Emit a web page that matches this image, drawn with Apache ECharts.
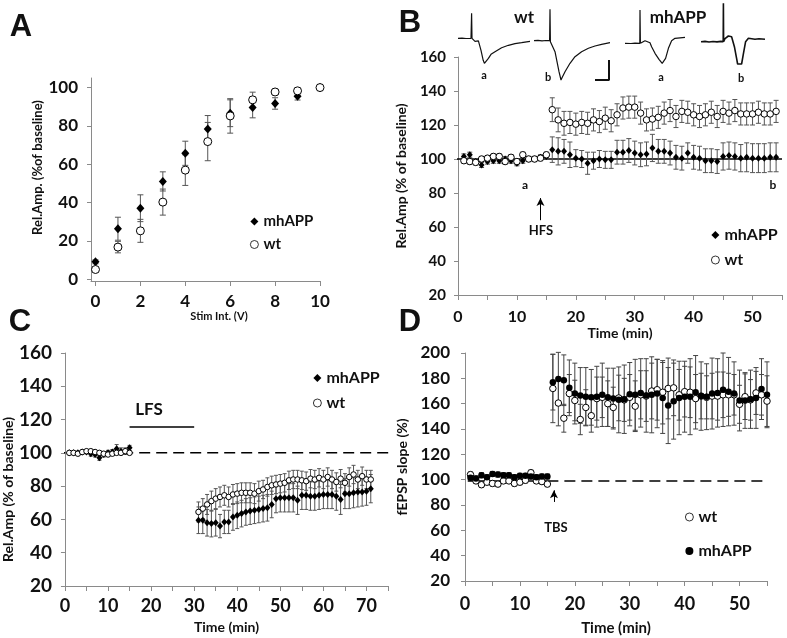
<!DOCTYPE html>
<html><head><meta charset="utf-8">
<script src="https://cdn.jsdelivr.net/npm/echarts@6/dist/echarts.min.js"></script>
<style>html,body{margin:0;padding:0;background:#fff}#c{width:787px;height:638px}</style>
</head><body><div id="c"></div>
<script>
// ---------- Panel A : input/output ----------
const stimV   = [0, 1, 2, 3, 4, 5, 6, 7, 8, 9, 10];
const aMh     = [9, 26.3, 37, 51, 65.7, 78.4, 86.6, 89.6, 91.7, 95.5, 100];
const aMhErr  = [1, 6, 7, 5, 6.3, 7, 7, 5.4, 3, 2, 0.5];
const aWt     = [5, 16.7, 25.2, 40.2, 56.9, 71.8, 85.2, 93.6, 97.7, 98.3, 100];
const aWtErr  = [1, 3, 6, 6.8, 8, 10, 9, 4, 1.5, 1.5, 0.5];
const aTicksX = [0, 2, 4, 6, 8, 10];
const aTicksY = [0, 20, 40, 60, 80, 100];

// ---------- Panel B : HFS LTP (rel. amplitude) ----------
const bTime  = [1,2,3,4,5,6,7,8,9,10,11,12,13,14,15,16,17,18,19,20,21,22,23,24,25,26,27,28,29,30,31,32,33,34,35,36,37,38,39,40,41,42,43,44,45,46,47,48,49,50,51,52,53,54];
const bMh    = [101.5,102.5,98.5,96.5,98.5,99,99,100,99,97.5,99,100,100,101,101.5,
                105.5,104.5,104.5,102.5,100.5,100,97.5,99,100,99.5,99.5,104,104,105,103.5,102.5,103,106.5,104.5,104.5,103.5,101,100.5,103.5,101,100.5,99,99,98.5,101.5,102,101.5,100.5,101,100.5,100.5,100.5,101,101];
const bMhErr = [1.5,1.5,1.5,1.5,1.5,1.5,1.5,1.5,1.5,1.5,1.5,1.5,1.5,1.5,1.5,
                7.5,8,7,7.5,5,5,6.5,5,5,5,5,7,7,7,7,7,7,8,7,7,7,7,7,6,7,7,7,7,7,8,8,8,8,8.5,8.5,8.5,8.5,8.5,8.5];
const bWt    = [99,98.5,98,100,100.5,101.5,101.5,98.5,101,98.5,102.5,100,100,100.5,102.5,
                129,123,121,121.5,120.5,121.5,121,123,122,124,122.5,126,130,130.5,130.5,127,123,123.5,124.5,127,128.5,125,128,127.5,126,125,126,127.5,125,128,127,128.5,126.5,126.5,126.5,127.5,126.5,126.5,128];
const bWtErr = [1.5,1.5,1.5,1.5,1.5,1.5,1.5,1.5,1.5,1.5,1.5,1.5,1.5,1.5,1.5,
                7,7,7,6.5,6.5,6.5,6.5,6.5,6.5,6.5,6.5,6.5,6.5,6.5,6.5,6.5,6.5,6.5,6.5,6.5,6.5,6.5,6.5,6.5,6.5,6.5,6.5,6.5,6.5,6.5,6.5,6.5,6.5,6.5,6.5,6.5,6.5,6.5,6.5];
const bRef   = [[-2, 100], [55, 100]];
const hfsArrow = [[14, 64], [14, 77]];

// sample traces (time ms, amplitude rel. to baseline)
const trWtA = [[0,0],[2,0.02],[4,-0.02],[6.5,0],[6.8,2.5],[7,0],[7.8,-0.17],[8.5,-0.3],[9.3,-0.17],[10.2,-0.25],[11.5,-1.2],[12.6,-2.2],[13.2,-2.5],[14,-2.3],[15.2,-2.0],[16.5,-1.6],[18.5,-1.34],[21.8,-0.94],[25.2,-0.7],[28.5,-0.54],[31.8,-0.44],[36,-0.3]];
const trWtB = [[0,0],[2,0.03],[4,-0.02],[6,0.02],[7.8,0],[8,3.14],[8.2,-0.1],[9,-0.2],[10.5,-1.1],[11.5,-2.1],[12.5,-3.1],[13.5,-3.93],[14,-3.7],[15.5,-3.1],[18,-2.26],[20.5,-1.6],[23.8,-1.1],[27.2,-0.76],[30.5,-0.53],[33.8,-0.36],[38,-0.2]];
const trMhA = [[0,0],[3,-0.02],[5,0.02],[7.4,0],[7.5,3.33],[7.7,0],[10,0.26],[12.5,0.05],[13.3,-0.34],[15,-1],[17,-1.6],[18.6,-2.0],[20.3,-1.5],[21.7,-0.5],[23.3,0.26],[25,0.5],[30,0.6]];
const trMhB = [[0,0],[2,0.03],[4,-0.03],[6,0.02],[8,-0.02],[10,0.03],[11.1,0],[11.2,3.84],[11.3,0],[12,0.3],[13.7,0.57],[15.3,0.5],[16.7,-0.5],[17.8,-1.66],[18.3,-2.23],[20.3,-2.23],[21.3,-1.1],[22.3,0],[23.7,0.34],[27,0.24],[29,0.3],[32,0.24]];
const scaleBar = [[30.5,-3.93],[37.5,-3.93],[37.5,-1.93]];

// ---------- Panel C : LFS LTD ----------
const cTime  = [1,2,3,4,5,6,7,8,9,10,11,12,13,14,15,31,32,33,34,35,36,37,38,39,40,41,42,43,44,45,46,47,48,49,50,51,52,53,54,55,56,57,58,59,60,61,62,63,64,65,66,67,68,69,70,71];
const cMh    = [100,100,100,100.5,100.5,99.5,99,97,99,100,100.5,102.5,101,101,103,
                59.5,59.5,58,57.5,58,56,58.5,58.5,61.5,62.5,63.5,64.5,65,65.5,66,66.5,67,69,72.5,73,73,73,73,71.5,74.5,74.5,74,74,74.5,75,75,75,74,72,75.5,75.5,76,76.5,76.5,77,78.5];
const cMhErr = [1,1,1,1,1,1.5,1.5,1.5,1.5,1.5,1.5,2.5,2,2,1.5,
                8,8,8,8,8,7,7,7,8,8,8,8,8,8,8,8,8,8,8.5,8.5,8.5,8.5,8.5,8.5,8.5,8.5,8.5,8.5,8.5,8.5,8.5,8.5,8.5,9,9,9,9,9,8.5,8.5,8.5];
const cWt    = [100,100,99.5,100.5,101,101,100.5,100,99.5,99,99.5,100,100,101,100,
                64.5,66.5,69,71,72.5,73.5,74.5,73.5,75,75.5,76,76,76,75.5,77,78,79.5,80.5,81,81.5,82,83.5,84,84,83.5,83,84.5,84,85,84,85.5,84,82.5,84.5,82,85.5,87,84,86,84,84];
const cWtErr = [1,1,1,1,1,1,1,1,1,1,1,1,1,1,1,
                6,6,6,6,6,6,6,6,6,6,6,6,6,6,6,5.5,5.5,5.5,5.5,5.5,5.5,5.5,5.5,5.5,5.5,5.5,5.5,5.5,5.5,5.5,5.5,5.5,5.5,5.5,5.5,5.5,5.5,5.5,5.5,5.5,5.5];
const cRef   = [[-2.5, 100], [76.5, 100]];
const lfsBar = [[15, 115.6], [30, 115.6]];

// ---------- Panel D : TBS LTP (fEPSP slope) ----------
const dTime  = [1,2,3,4,5,6,7,8,9,10,11,12,13,14,15,16,17,18,19,20,21,22,23,24,25,26,27,28,29,30,31,32,33,34,35,36,37,38,39,40,41,42,43,44,45,46,47,48,49,50,51,52,53,54,55];
const dWt    = [104,99,96,98,97,96.5,99,99,97,98,99.5,105.5,99,98.5,96.5,
                172,160.5,148.5,168,162.5,147.5,157,150.5,164,165,160,157,164.5,163,165,158,167,166,170,171,169,172,172.5,167,169.5,169,164,166,165,166,166,167,167,167,159.5,165.5,163,168.5,167,162];
const dWtErr = [2,2,2,2,2,2,2,2,2,2,2,2,2,2,2,
                27,18,11,15,16,12,14,13,17,16,18,16,18,17,18,20,19,20,22,24,25,24,22,20,20,20,19,18,17,18,19,18,17,16,15,18,16,17,16,20];
const dMh    = [101.5,101,103.5,102,104.5,104,103.5,103.5,102,103,103,102.5,102,102.5,102.5,
                177,179.5,178.5,172.5,168,166.5,165.5,165,165.5,167,165,164,163,163.5,167.5,167,168.5,166.5,167,168,164.5,158.5,162,164.5,165.5,165.5,169,166,165.5,168,168.5,171,169.5,168,162.5,162.5,163.5,164.5,171.5,167];
const dMhErr = [2,2,2,2,2,2,2,2,2,2,2,2,2,2,2,
                22,21,20,22,24,22,23,22,24,25,23,24,26,27,25,28,27,29,30,27,28,30,30,29,28,30,29,27,26,28,27,29,27,25,24,22,23,24,24,26];
const dRefSolid  = [[0.5, 99], [15, 99]];
const dRefDashed = [[15, 99], [55, 99]];
const tbsArrow   = [[16.2, 82.4], [16.2, 91.6]];

// ---------------------------------------------------------------
const FONT = 'Lato, "Open Sans", sans-serif';
const txt = (size) => ({fontFamily: FONT, fontWeight: 'bold', fontSize: size, color: '#111'});
const AX = '#8a8a8a';
const pairs = (xs, vs) => xs.map((x, i) => [x, vs[i]]);

function errSeries(xi, xs, vs, es, cap, color) {
  return {
    type: 'custom', xAxisIndex: xi, yAxisIndex: xi, z: 2, silent: true,
    data: xs.map((x, i) => [x, vs[i] - es[i], vs[i] + es[i]]),
    encode: {x: 0, y: [1, 2]},
    renderItem: function (params, api) {
      const x = api.value(0);
      const p1 = api.coord([x, api.value(2)]);
      const p2 = api.coord([x, api.value(1)]);
      const st = {stroke: color || '#555', lineWidth: 1};
      return {type: 'group', children: [
        {type: 'line', shape: {x1: p1[0], y1: p1[1], x2: p2[0], y2: p2[1]}, style: st},
        {type: 'line', shape: {x1: p1[0] - cap, y1: p1[1], x2: p1[0] + cap, y2: p1[1]}, style: st},
        {type: 'line', shape: {x1: p2[0] - cap, y1: p2[1], x2: p2[0] + cap, y2: p2[1]}, style: st}
      ]};
    }
  };
}
function openCircle(name, xi, data, size, z) {
  return {name, type: 'scatter', xAxisIndex: xi, yAxisIndex: xi, data, symbol: 'circle', symbolSize: size,
    itemStyle: {color: '#fff', borderColor: '#000', borderWidth: 1, opacity: 1}, z: z || 4, silent: true};
}
function filled(name, xi, data, symbol, size, z) {
  return {name, type: 'scatter', xAxisIndex: xi, yAxisIndex: xi, data, symbol, symbolSize: size,
    itemStyle: {color: '#000', opacity: 1}, z: z || 3, silent: true};
}
function refLine(xi, data, dashed, width) {
  return {type: 'line', xAxisIndex: xi, yAxisIndex: xi, data, symbol: 'none', clip: false, silent: true, z: 1,
    lineStyle: {color: '#000', width: width || 1.5, type: dashed ? [11, 6] : 'solid'}};
}
function arrowLine(xi, pts) {
  return {type: 'line', xAxisIndex: xi, yAxisIndex: xi, data: [], silent: true,
    markLine: {silent: true, symbol: ['none', 'arrow'], symbolSize: [6, 8], label: {show: false},
      lineStyle: {color: '#000', width: 1, type: 'solid'},
      data: [[{coord: pts[0]}, {coord: pts[1]}]]}};
}
function traceSeries(xi, data, w) {
  return {type: 'line', xAxisIndex: xi, yAxisIndex: xi, data, symbol: 'none', clip: false, silent: true,
    lineStyle: {color: '#111', width: w || 1.2}};
}

function valueX(gi, opt) {
  return Object.assign({
    gridIndex: gi, type: 'value',
    axisLine: {show: true, onZero: false, lineStyle: {color: AX, width: 1}},
    axisTick: {show: true, length: 5, lineStyle: {color: AX}},
    splitLine: {show: false},
    nameLocation: 'middle'
  }, opt);
}
function valueY(gi, opt) {
  return Object.assign({
    gridIndex: gi, type: 'value',
    axisLine: {show: true, onZero: false, lineStyle: {color: AX, width: 1}},
    axisTick: {show: true, length: 4, lineStyle: {color: AX}},
    splitLine: {show: false},
    nameLocation: 'middle'
  }, opt);
}
const every10 = v => (v % 10 === 0 ? String(v) : '');

// trace grids: [left, top, width]
const traceBoxes = [[458, 3.3, 72], [534, 5.7, 76], [625, 8.3, 60], [701, 6.7, 64]];

const grids = [
  {left: 91, top: 78, width: 229, height: 203},
  {left: 458, top: 57, width: 324, height: 238},
  {left: 64, top: 353, width: 324, height: 233},
  {left: 465, top: 353, width: 302, height: 228}
].concat(traceBoxes.map(b => ({left: b[0], top: b[1], width: b[2], height: 80})));

const xAxes = [
  valueX(0, {min: -0.2, max: 10,
    axisTick: {show: true, length: 5, lineStyle: {color: AX}, customValues: aTicksX},
    axisLabel: Object.assign({customValues: aTicksX, margin: 12}, txt(17)),
    name: 'Stim Int. (V)', nameGap: 30, nameTextStyle: Object.assign({padding: [0, 0, 0, 27]}, txt(11))}),
  valueX(1, {min: 0, max: 55, interval: 5,
    axisLabel: Object.assign({formatter: every10, margin: 14}, txt(16)),
    name: 'Time (min)', nameGap: 31, nameTextStyle: txt(14)}),
  valueX(2, {min: 0, max: 75, interval: 5,
    axisLabel: Object.assign({formatter: every10, margin: 11}, txt(18)),
    name: 'Time (min)', nameGap: 34, nameTextStyle: txt(14)}),
  valueX(3, {min: 0, max: 55, interval: 5,
    axisLabel: Object.assign({formatter: every10, margin: 14}, txt(18)),
    name: 'Time (min)', nameGap: 40, nameTextStyle: txt(15)})
].concat(traceBoxes.map((b, i) => ({gridIndex: 4 + i, type: 'value', min: 0, max: b[2] / 2, show: false})));

const yAxes = [
  valueY(0, {min: -1, max: 105,
    axisTick: {show: true, length: 4, lineStyle: {color: AX}, customValues: aTicksY},
    axisLabel: Object.assign({customValues: aTicksY, margin: 13}, txt(17)),
    name: 'Rel.Amp. (%of baseline)', nameGap: 42, nameTextStyle: Object.assign({padding: [0, 0, 0, 24]}, txt(13))}),
  valueY(1, {min: 20, max: 160, interval: 20,
    axisLabel: Object.assign({margin: 12}, txt(15)),
    name: 'Rel.Amp (% of baseline)', nameGap: 50, nameTextStyle: txt(14)}),
  valueY(2, {min: 20, max: 160, interval: 20,
    axisLabel: Object.assign({margin: 13}, txt(19)),
    name: 'Rel.Amp (% of baseline)', nameGap: 48, nameTextStyle: Object.assign({padding: [0, 40, 0, 0]}, txt(14))}),
  valueY(3, {min: 20, max: 200, interval: 20,
    axisLabel: Object.assign({margin: 15}, txt(17)),
    name: 'fEPSP slope (%)', nameGap: 56, nameTextStyle: txt(14)})
].concat(traceBoxes.map((b, i) => ({gridIndex: 4 + i, type: 'value', min: -4.5, max: 3.5, show: false})));

const series = [
  // A
  errSeries(0, stimV, aMh, aMhErr, 3, '#555'),
  errSeries(0, stimV, aWt, aWtErr, 3, '#555'),
  filled('mhAPP|A', 0, pairs(stimV, aMh), 'diamond', [8, 9]),
  openCircle('wt|A', 0, pairs(stimV, aWt), 8),
  // B
  refLine(1, bRef, false, 1.5),
  errSeries(1, bTime, bMh, bMhErr, 2.5, '#555'),
  errSeries(1, bTime, bWt, bWtErr, 2.5, '#555'),
  filled('mhAPP|B', 1, pairs(bTime, bMh), 'diamond', [6, 7]),
  openCircle('wt|B', 1, pairs(bTime, bWt), 6.5),
  arrowLine(1, hfsArrow),
  // C
  refLine(2, cRef, true, 1.5),
  refLine(2, lfsBar, false, 1.5),
  errSeries(2, cTime, cMh, cMhErr, 2, '#555'),
  errSeries(2, cTime, cWt, cWtErr, 2, '#555'),
  filled('mhAPP|C', 2, pairs(cTime, cMh), 'diamond', [6, 7]),
  openCircle('wt|C', 2, pairs(cTime, cWt), 5.5),
  // D
  refLine(3, dRefSolid, false, 1.5),
  refLine(3, dRefDashed, true, 1.5),
  errSeries(3, dTime, dWt, dWtErr, 2.5, '#444'),
  errSeries(3, dTime, dMh, dMhErr, 2.5, '#444'),
  openCircle('wt|D', 3, pairs(dTime, dWt), 6.5, 3),
  filled('mhAPP|D', 3, pairs(dTime, dMh), 'circle', 6.5, 4),
  arrowLine(3, tbsArrow),
  // traces
  traceSeries(4, trWtA, 1.2),
  traceSeries(5, trWtB, 1.2),
  traceSeries(5, scaleBar, 2),
  traceSeries(6, trMhA, 1.2),
  traceSeries(7, trMhB, 1.6)
];

const openIcon = {color: '#fff', borderColor: '#000', borderWidth: 0.8, opacity: 1};
const fillIcon = {color: '#000', borderWidth: 0, opacity: 1};
const item = (name, open, icon) => ({name, icon, itemStyle: open ? openIcon : fillIcon});
const legendBase = {orient: 'vertical', itemWidth: 8, itemHeight: 8,
  formatter: n => n.split('|')[0], selectedMode: false};
const legends = [
  Object.assign({}, legendBase, {data: [item('mhAPP|A', false, 'diamond'), item('wt|A', true, 'circle')], left: 245, top: 209, itemGap: 8, textStyle: txt(15)}),
  Object.assign({}, legendBase, {data: [item('mhAPP|B', false, 'diamond'), item('wt|B', true, 'circle')], left: 706, top: 222, itemGap: 9, textStyle: txt(16)}),
  Object.assign({}, legendBase, {data: [item('mhAPP|C', false, 'diamond'), item('wt|C', true, 'circle')], left: 308, top: 365, itemGap: 9, textStyle: txt(16)}),
  Object.assign({}, legendBase, {data: [item('wt|D', true, 'circle'), item('mhAPP|D', false, 'circle')], left: 680, top: 504, itemGap: 18, textStyle: txt(16)})
];

function label(x, y, text, size, font) {
  return {type: 'text', x, y, silent: true,
    style: {text, fontFamily: font || FONT, fontWeight: 'bold', fontSize: size, fill: '#111',
      align: 'center', verticalAlign: 'middle'}};
}
const ARIAL = '"Liberation Sans", Arial, sans-serif';
const graphics = [
  label(21, 27, 'A', 31, ARIAL),
  label(410, 23, 'B', 31, ARIAL),
  label(20, 322, 'C', 31, ARIAL),
  label(410, 322, 'D', 31, ARIAL),
  label(524, 18, 'wt', 17),
  label(678, 18, 'mhAPP', 17),
  label(484, 75, 'a', 11),
  label(548, 77, 'b', 11),
  label(661, 77, 'a', 11),
  label(741, 78, 'b', 11),
  label(525, 185, 'a', 12),
  label(773, 185, 'b', 12),
  label(541, 231, 'HFS', 13),
  label(556, 528, 'TBS', 13),
  label(149, 410, 'LFS', 17)
];

const chart = echarts.init(document.getElementById('c'));
chart.setOption({
  animation: false,
  backgroundColor: '#fff',
  grid: grids,
  xAxis: xAxes,
  yAxis: yAxes,
  legend: legends,
  series: series,
  graphic: graphics
});
</script>
</body></html>
